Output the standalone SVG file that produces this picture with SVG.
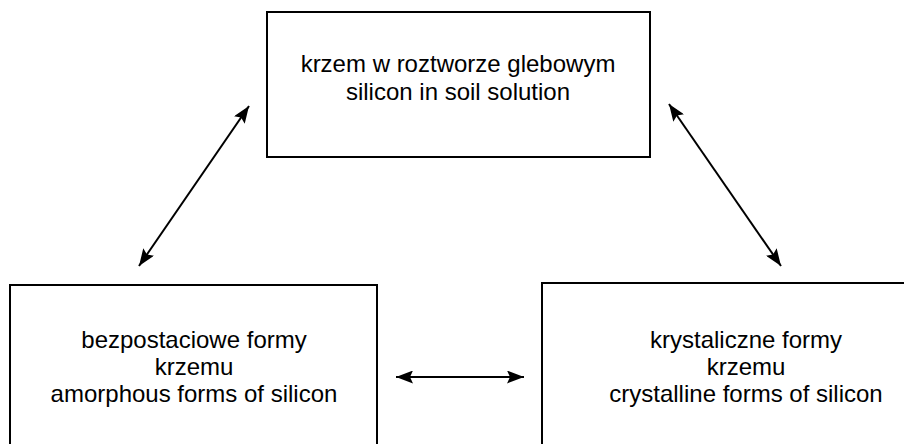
<svg xmlns="http://www.w3.org/2000/svg" width="904" height="444" viewBox="0 0 904 444">
  <style>
    .box { fill: #fff; stroke: #000; stroke-width: 2; }
    .lbl { font-family: "Liberation Sans", Arial, sans-serif; font-size: 24px; fill: #000; text-anchor: middle; }
    .link { stroke: #000; stroke-width: 2; fill: none; marker-start: url(#head); marker-end: url(#head); }
  </style>
  <defs>
    <marker id="head" viewBox="0 0 17 13" refX="17" refY="6.5" markerWidth="17" markerHeight="13" markerUnits="userSpaceOnUse" orient="auto-start-reverse">
      <path d="M0,0 L17,6.5 L0,13 L3,6.5 z" fill="#000"/>
    </marker>
  </defs>
  <rect width="904" height="444" fill="#fff"/>

  <g id="soil-solution">
    <rect class="box" x="267" y="12" width="383" height="145"/>
    <text class="lbl" x="458" y="72">krzem w roztworze glebowym</text>
    <text class="lbl" x="458" y="100">silicon in soil solution</text>
  </g>

  <g id="amorphous">
    <rect class="box" x="10" y="285" width="367" height="170"/>
    <text class="lbl" x="194" y="348">bezpostaciowe formy</text>
    <text class="lbl" x="194" y="375">krzemu</text>
    <text class="lbl" x="194" y="402">amorphous forms of silicon</text>
  </g>

  <g id="crystalline">
    <rect class="box" x="542" y="283" width="380" height="170"/>
    <text class="lbl" x="746" y="348">krystaliczne formy</text>
    <text class="lbl" x="746" y="375">krzemu</text>
    <text class="lbl" x="746" y="402">crystalline forms of silicon</text>
  </g>

  <g id="connectors">
    <line class="link" x1="139" y1="266" x2="249" y2="106"/>
    <line class="link" x1="669" y1="104" x2="781" y2="266"/>
    <line class="link" x1="396" y1="377" x2="524" y2="377"/>
  </g>
</svg>
